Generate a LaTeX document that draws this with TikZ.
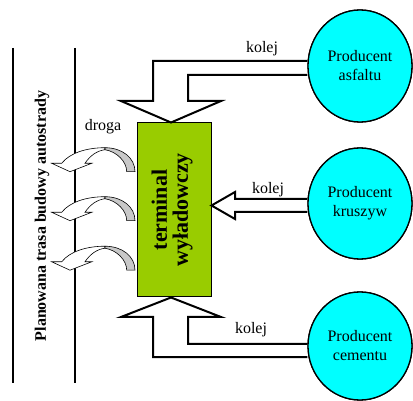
\documentclass[tikz,border=0pt]{standalone}
\usepackage{fontspec}
\setmainfont{Liberation Serif}
\usetikzlibrary{shapes.geometric,calc}
\definecolor{termgreen}{RGB}{153,204,0}
\definecolor{prodcyan}{RGB}{0,255,255}
\definecolor{backgrey}{RGB}{200,200,200}
\tikzset{
  producer/.style={ellipse, draw=black, line width=1.3pt, fill=prodcyan,
    minimum width=104pt, minimum height=112pt, inner sep=0pt, align=center,
    font=\fontsize{16}{19}\selectfont},
  terminalbox/.style={draw=black, line width=1pt, fill=termgreen,
    minimum width=74pt, minimum height=174pt, inner sep=0pt},
  blockarrow/.style={draw=black, line width=2pt, fill=white, line join=miter},
  lbl/.style={font=\fontsize{16}{19}\selectfont, inner sep=0pt},
  road/.style={line width=2pt},
  curvw/.style={draw=black, line width=0.6pt, fill=white},
  curvg/.style={draw=black, line width=0.6pt, fill=backgrey},
  pics/roadarrow/.style={code={
    \draw[curvw] (0,0) .. controls (-18,0) and (-35,5) .. (-43.3,15.6)
      -- (-53.3,15.6) -- (-35,24) -- (-13.3,15.6) -- (-20,15.6)
      .. controls (-15,8) and (-8,3) .. (0,2) -- cycle;
    \draw[curvg] (0,0) .. controls (17,0) and (30,10) .. (30,24)
      -- (21.7,24) .. controls (21.7,14) and (12,4) .. (0,2) -- cycle;
  }}
}
\begin{document}
\begin{tikzpicture}[x=1pt,y=-1pt]
\path[use as bounding box] (0,0) rectangle (413,401);

% road lines
\coordinate (l1t) at (13,48);
\coordinate (l1b) at (13,383);
\coordinate (l2t) at (75,48);
\coordinate (l2b) at (75,383);
\draw[road] (l1t) -- (l1b);
\draw[road] (l2t) -- (l2b);

\node[rotate=90, inner sep=0pt, font=\bfseries\fontsize{16}{19}\selectfont] (trasa) at (42,216) {Planowana trasa budowy autostrady};

% terminal
\node[terminalbox] (term) at (174,210) {};
\node[rotate=90, align=center, inner sep=0pt, font=\bfseries\fontsize{22}{21}\selectfont] (termtext) at (172,210) {terminal\\wyładowczy};

% producers
\node[producer] (asf) at (360,66) {Producent\\asfaltu};
\node[producer, minimum height=111pt] (kru) at (360,203.5) {Producent\\kruszyw};
\node[producer, minimum height=108pt] (cem) at (360,346) {Producent\\cementu};

% block arrows
\draw[blockarrow] (asf.west |- 0,61) -- (153,61) -- (153,101) -- (121,101)
  -- ($(term.north)+(-3,0)$) -- (221,101) -- (188,101) -- (188,75) -- (asf.west |- 0,75);
\draw[blockarrow] (kru.west |- 0,199) -- (235,199) -- (235,192)
  -- (term.east |- 0,205.5) -- (235,219) -- (235,212) -- (kru.west |- 0,212);
\draw[blockarrow] (cem.west |- 0,357) -- (153,357) -- (153,317) -- (121,317)
  -- ($(term.south)+(-3,0)$) -- (221,317) -- (188,317) -- (188,344) -- (cem.west |- 0,344);

% redraw producers on top of arrow ends
\node[producer] at (asf) {Producent\\asfaltu};
\node[producer, minimum height=111pt] at (kru) {Producent\\kruszyw};
\node[producer, minimum height=108pt] at (cem) {Producent\\cementu};

% curved road arrows
\pic (ra1) at (105,147.7) {roadarrow};
\pic (ra2) at (105,196.7) {roadarrow};
\pic (ra3) at (105,246.2) {roadarrow};

% labels
\node[lbl] (k1) at (262,49) {kolej};
\node[lbl] (k2) at (268,190) {kolej};
\node[lbl] (k3) at (251,330) {kolej};
\node[lbl] (droga) at (103,127) {droga};
\end{tikzpicture}
\end{document}
